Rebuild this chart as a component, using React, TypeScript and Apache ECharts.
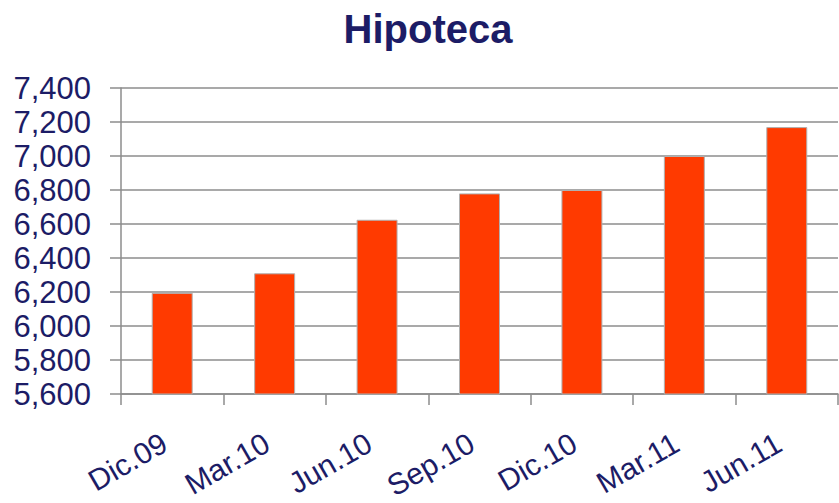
import React, { useEffect, useRef } from "react";
import * as echarts from "echarts";

const title = "Hipoteca";
const categories = ["Dic.09", "Mar.10", "Jun.10", "Sep.10", "Dic.10", "Mar.11", "Jun.11"];
const values = [6195, 6310, 6625, 6780, 6800, 7000, 7170];
const yMin = 5600;
const yMax = 7400;
const yStep = 200;

const navy = "#1c1c66";

export default function App() {
  const ref = useRef<HTMLDivElement>(null);
  useEffect(() => {
    if (!ref.current) return;
    const chart = echarts.init(ref.current, null, { renderer: "svg" });
    chart.setOption({
      animation: false,
      backgroundColor: "#ffffff",
      title: {
        text: title,
        left: 423,
        top: 4,
        textAlign: "center",
        textStyle: {
          fontFamily: "Liberation Sans, Arial, sans-serif",
          fontSize: 40,
          fontWeight: "bold",
          color: navy,
        },
      },
      grid: {
        left: 121,
        right: 1,
        top: 88,
        bottom: 109,
        containLabel: false,
        outerBoundsMode: "none",
      },
      xAxis: {
        type: "category",
        data: categories,
        axisLine: { show: true, lineStyle: { color: "#8c8c8c", width: 1.5 } },
        axisTick: { show: true, length: 11, alignWithLabel: false, lineStyle: { color: "#8c8c8c", width: 1.5 } },
        axisLabel: {
          rotate: 30,
          margin: 42,
          padding: [0, 9, 0, 0],
          fontFamily: "Liberation Sans, Arial, sans-serif",
          fontSize: 30,
          color: navy,
          interval: 0,
        },
        splitLine: { show: false },
      },
      yAxis: {
        type: "value",
        min: yMin,
        max: yMax,
        interval: yStep,
        axisLine: { show: true, lineStyle: { color: "#8c8c8c", width: 1.5 } },
        axisTick: { show: true, length: 11, lineStyle: { color: "#8c8c8c", width: 1.5 } },
        axisLabel: {
          margin: 30,
          fontFamily: "Liberation Sans, Arial, sans-serif",
          fontSize: 31,
          color: navy,
          formatter: (v: number) => v.toLocaleString("en-US"),
        },
        splitLine: { show: true, lineStyle: { color: "#8c8c8c", width: 1.5 } },
      },
      series: [
        {
          type: "bar",
          data: values,
          barWidth: "40%",
          itemStyle: { color: "#ff3a00", borderColor: "#b0b0b0", borderWidth: 1 },
        },
      ],
    });
    return () => chart.dispose();
  }, []);
  return (
    <div
      ref={ref}
      style={{ position: "fixed", left: 0, top: 0, width: 839, height: 503 }}
    />
  );
}
